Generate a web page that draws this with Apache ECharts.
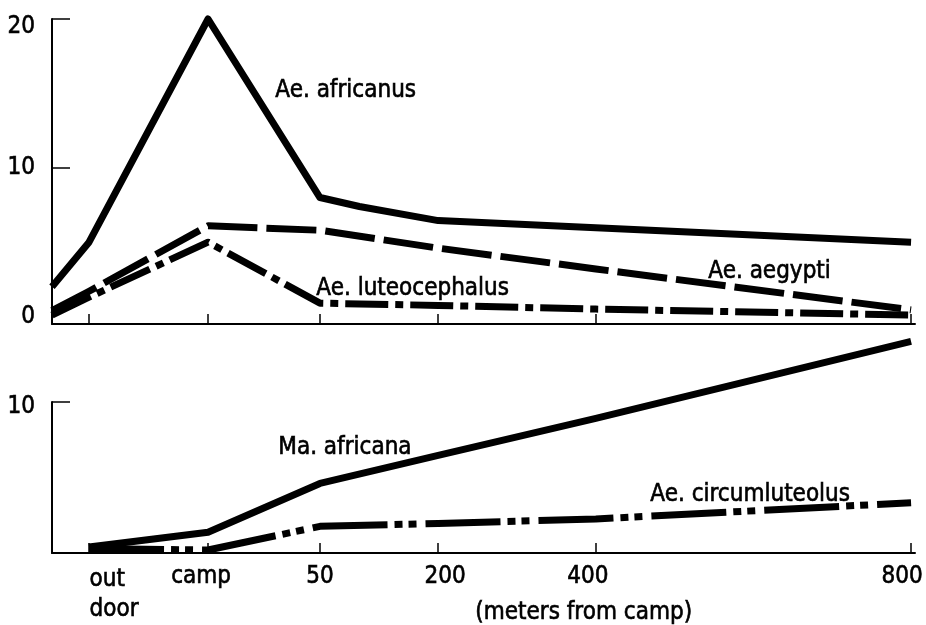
<!DOCTYPE html>
<html>
<head>
<meta charset="utf-8">
<script src="https://cdn.jsdelivr.net/npm/echarts@6/dist/echarts.min.js"></script>
<style>
  html, body { margin: 0; padding: 0; background: #fff; }
  #chart { width: 926px; height: 625px; }
</style>
</head>
<body>
<div id="chart"></div>
<script>
// ---- data (x = position along the distance axis; "out door" and "camp" sit left of 0 m) ----
const xTickLabels = ['out\ndoor', 'camp', '50', '200', '400', '800'];
const xTickValues = [-243, -92, 50, 200, 400, 800];
const xAxisName = '(meters from camp)';

const topYLabels = [0, 10, 20];
const bottomYLabels = [10];

// top panel
const africanusX = [-290, -243, -92, 50, 100, 200, 800];
const africanusY = [2.0, 5.0, 20.0, 8.0, 7.4, 6.45, 5.0];

const aegyptiX = [-290, -243, -92, 50, 200, 400, 800];
const aegyptiY = [0.4, 1.7, 6.1, 5.8, 4.6, 3.2, 0.45];

const luteocephalusX = [-290, -243, -92, 50, 200, 400, 800];
const luteocephalusY = [0.1, 1.3, 5.0, 0.9, 0.75, 0.5, 0.1];

// bottom panel
const maAfricanaX = [-243, -92, 50, 200, 400, 800];
const maAfricanaY = [0.2, 1.2, 4.5, 6.4, 8.9, 14.1];

const circumluteolusX = [-243, -92, 50, 200, 400, 800];
const circumluteolusY = [0.1, 0.0, 1.6, 1.8, 2.1, 3.2];

const seriesNames = ['Ae. africanus', 'Ae. aegypti', 'Ae. luteocephalus', 'Ma. africana', 'Ae. circumluteolus'];

// ---- chart ----
const FONT = '"DejaVu Sans Condensed", "DejaVu Sans", sans-serif';
const zip = (xs, ys) => xs.map((x, i) => [x, ys[i]]);
const TB = { textBorderColor: '#000', textBorderWidth: 0.6 };
const tok = (extra) => Object.assign({ fontSize: 24, fontFamily: FONT, color: '#000' }, TB, extra);

const baseX = {
  type: 'value', min: -290, max: 805,
  axisLine: { show: true, onZero: false, lineStyle: { color: '#000', width: 2 } },
  axisTick: { show: true, inside: true, length: 10, customValues: xTickValues, lineStyle: { color: '#000', width: 1.5 } },
  splitLine: { show: false }
};

function lineSeries(name, xs, ys, xi, dash, width) {
  return {
    type: 'line', name: name, xAxisIndex: xi, yAxisIndex: xi,
    data: zip(xs, ys), symbol: 'none', showSymbol: false, clip: false, silent: true,
    lineStyle: { color: '#000', width: width || 7, type: dash, cap: 'butt', join: 'round' }
  };
}

const chart = echarts.init(document.getElementById('chart'), null, { renderer: 'canvas' });
const labelTxt = (t, x, y) => ({
  type: 'text', left: x, top: y,
  style: { text: t, font: '24px ' + FONT, fill: '#000', stroke: '#000', lineWidth: 0.6 }
});

function yLabel(maxV, shift) {
  return Object.assign({
    show: true, margin: 17, color: '#000', fontSize: 24, fontFamily: FONT,
    formatter: function (v) { return v === maxV ? '{t|' + v + '}' : String(v); },
    rich: { t: tok({ padding: [shift, 0, 0, 0] }) }
  }, TB);
}

// small per-label nudges (label style only)
const xLabelStyleKey = ['o', 'c', 'n', 'r', 'l', 'k'];

chart.setOption({
  animation: false,
  backgroundColor: '#fff',
  textStyle: { fontFamily: FONT },
  grid: [
    { left: 52, right: 11, top: 19, height: 305, outerBoundsMode: 'none', containLabel: false },
    { left: 52, right: 11, top: 402, height: 151, outerBoundsMode: 'none', containLabel: false }
  ],
  xAxis: [
    Object.assign({}, baseX, { gridIndex: 0, axisLabel: { show: false } }),
    Object.assign({}, baseX, {
      gridIndex: 1,
      axisLabel: Object.assign({
        show: true, customValues: xTickValues, margin: 12,
        color: '#000', fontSize: 24, fontFamily: FONT,
        formatter: function (v) {
          const i = xTickValues.indexOf(v);
          if (i < 0) return '';
          const t = xTickLabels[i], k = xLabelStyleKey[i];
          return t.split('\n').map(s => '{' + k + '|' + s + '}').join('\n');
        },
        rich: {
          o: tok({ align: 'left', padding: [0, 0, 0, 50], lineHeight: 30 }),
          c: tok({ padding: [0, 14, 0, 0] }),
          n: tok({}),
          r: tok({ padding: [0, 0, 0, 14] }),
          l: tok({ padding: [0, 16, 0, 0] }),
          k: tok({ padding: [0, 18, 0, 0] })
        }
      }, TB)
    })
  ],
  yAxis: [
    {
      gridIndex: 0, type: 'value', min: -0.5, max: 20,
      axisLine: { show: true, onZero: false, lineStyle: { color: '#000', width: 2 } },
      axisTick: { show: true, inside: true, length: 18, customValues: [10, 20], lineStyle: { color: '#000', width: 1.5 } },
      axisLabel: Object.assign(yLabel(20, 16), { customValues: topYLabels }),
      splitLine: { show: false }
    },
    {
      gridIndex: 1, type: 'value', min: -0.2, max: 10,
      axisLine: { show: true, onZero: false, lineStyle: { color: '#000', width: 2 } },
      axisTick: { show: true, inside: true, length: 18, customValues: [10], lineStyle: { color: '#000', width: 1.5 } },
      axisLabel: Object.assign(yLabel(10, 10), { customValues: bottomYLabels }),
      splitLine: { show: false }
    }
  ],
  series: [
    lineSeries(seriesNames[0], africanusX, africanusY, 0, 'solid', 7),
    lineSeries(seriesNames[1], aegyptiX, aegyptiY, 0, [50, 9], 7),
    lineSeries(seriesNames[2], luteocephalusX, luteocephalusY, 0, [43, 7, 8, 7], 7),
    lineSeries(seriesNames[3], maAfricanaX, maAfricanaY, 1, 'solid', 7),
    lineSeries(seriesNames[4], circumluteolusX, circumluteolusY, 1, [75, 7, 8, 6, 8, 9], 7)
  ],
  graphic: [
    labelTxt(seriesNames[0], 275, 78),
    labelTxt(seriesNames[1], 708, 259),
    labelTxt(seriesNames[2], 316, 276),
    labelTxt(seriesNames[3], 278, 435),
    labelTxt(seriesNames[4], 650, 482),
    labelTxt(xAxisName, 475, 600)
  ]
});
</script>
</body>
</html>
